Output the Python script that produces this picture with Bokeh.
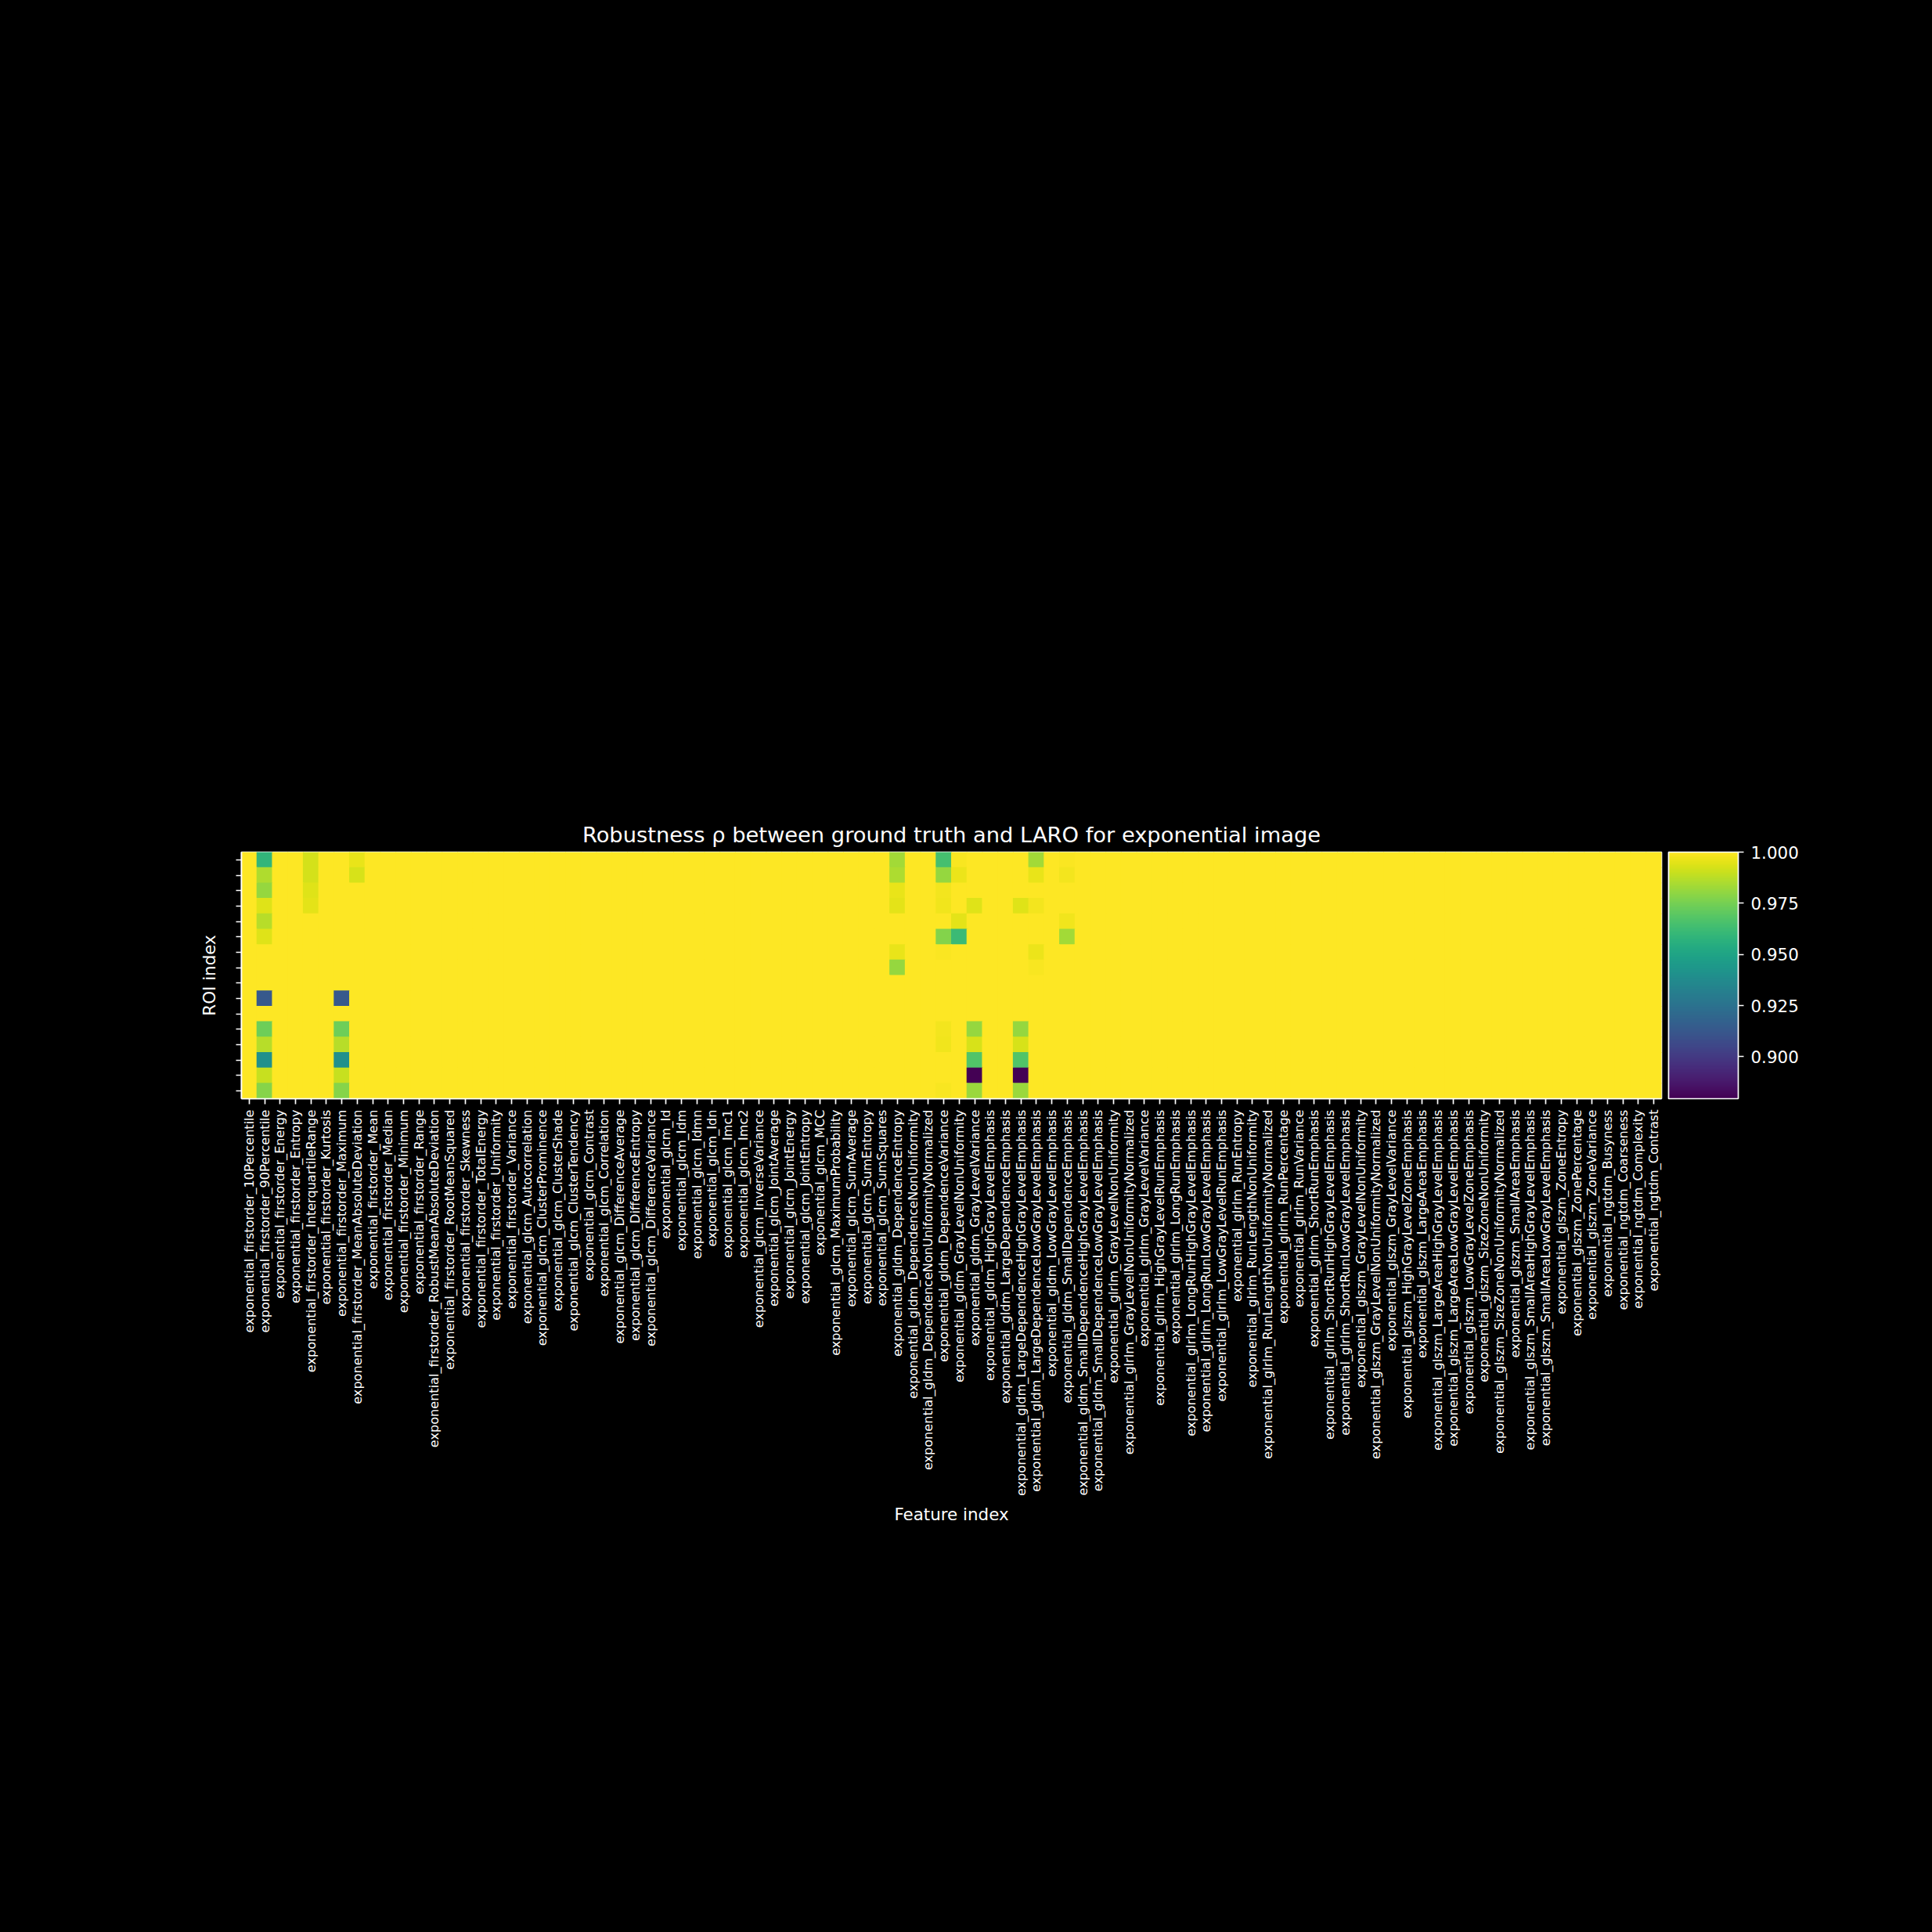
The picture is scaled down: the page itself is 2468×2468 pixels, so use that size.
import numpy as np
from bokeh.plotting import figure
from bokeh.models import (LinearColorMapper, ColorBar, FixedTicker, PrintfTickFormatter,
                          Range1d, ColumnDataSource)
from bokeh.palettes import Viridis256
from bokeh.embed import file_html
from bokeh.resources import INLINE

prefix = "exponential_"
firstorder = ["10Percentile", "90Percentile", "Energy", "Entropy", "InterquartileRange", "Kurtosis",
              "Maximum", "MeanAbsoluteDeviation", "Mean", "Median", "Minimum", "Range",
              "RobustMeanAbsoluteDeviation", "RootMeanSquared", "Skewness", "TotalEnergy",
              "Uniformity", "Variance"]
glcm = ["Autocorrelation", "ClusterProminence", "ClusterShade", "ClusterTendency", "Contrast",
        "Correlation", "DifferenceAverage", "DifferenceEntropy", "DifferenceVariance", "Id", "Idm",
        "Idmn", "Idn", "Imc1", "Imc2", "InverseVariance", "JointAverage", "JointEnergy",
        "JointEntropy", "MCC", "MaximumProbability", "SumAverage", "SumEntropy", "SumSquares"]
gldm = ["DependenceEntropy", "DependenceNonUniformity", "DependenceNonUniformityNormalized",
        "DependenceVariance", "GrayLevelNonUniformity", "GrayLevelVariance", "HighGrayLevelEmphasis",
        "LargeDependenceEmphasis", "LargeDependenceHighGrayLevelEmphasis",
        "LargeDependenceLowGrayLevelEmphasis", "LowGrayLevelEmphasis", "SmallDependenceEmphasis",
        "SmallDependenceHighGrayLevelEmphasis", "SmallDependenceLowGrayLevelEmphasis"]
glrlm = ["GrayLevelNonUniformity", "GrayLevelNonUniformityNormalized", "GrayLevelVariance",
         "HighGrayLevelRunEmphasis", "LongRunEmphasis", "LongRunHighGrayLevelEmphasis",
         "LongRunLowGrayLevelEmphasis", "LowGrayLevelRunEmphasis", "RunEntropy",
         "RunLengthNonUniformity", "RunLengthNonUniformityNormalized", "RunPercentage",
         "RunVariance", "ShortRunEmphasis", "ShortRunHighGrayLevelEmphasis",
         "ShortRunLowGrayLevelEmphasis"]
glszm = ["GrayLevelNonUniformity", "GrayLevelNonUniformityNormalized", "GrayLevelVariance",
         "HighGrayLevelZoneEmphasis", "LargeAreaEmphasis", "LargeAreaHighGrayLevelEmphasis",
         "LargeAreaLowGrayLevelEmphasis", "LowGrayLevelZoneEmphasis", "SizeZoneNonUniformity",
         "SizeZoneNonUniformityNormalized", "SmallAreaEmphasis", "SmallAreaHighGrayLevelEmphasis",
         "SmallAreaLowGrayLevelEmphasis", "ZoneEntropy", "ZonePercentage", "ZoneVariance"]
ngtdm = ["Busyness", "Coarseness", "Complexity", "Contrast"]

features = ([prefix + "firstorder_" + f for f in firstorder] + [prefix + "glcm_" + f for f in glcm] +
            [prefix + "gldm_" + f for f in gldm] + [prefix + "glrlm_" + f for f in glrlm] +
            [prefix + "glszm_" + f for f in glszm] + [prefix + "ngtdm_" + f for f in ngtdm])

roi_index = list(range(16))

# robustness rho per ROI (0..15) for features that are not 1.0 everywhere
rho_fo_90Percentile = [0.959, 0.9855, 0.981, 0.994, 0.987, 0.994, 1.0, 1.0, 1.0, 0.913, 1.0, 0.9735, 0.987, 0.940, 0.990, 0.978]
rho_fo_IQR = [0.992, 0.992, 0.994, 0.995, 1.0, 1.0, 1.0, 1.0, 1.0, 1.0, 1.0, 1.0, 1.0, 1.0, 1.0, 1.0]
rho_fo_Maximum = [1.0, 1.0, 1.0, 1.0, 1.0, 1.0, 1.0, 1.0, 1.0, 0.913, 1.0, 0.9735, 0.987, 0.940, 0.990, 0.978]
rho_fo_MAD = [0.9958, 0.9925, 1.0, 1.0, 1.0, 1.0, 1.0, 1.0, 1.0, 1.0, 1.0, 1.0, 1.0, 1.0, 1.0, 1.0]
rho_gldm_DepEntropy = [0.9835, 0.985, 0.9958, 0.995, 1.0, 1.0, 0.996, 0.981, 1.0, 1.0, 1.0, 1.0, 1.0, 1.0, 1.0, 1.0]
rho_gldm_DepVariance = [0.9646, 0.981, 0.998, 0.9975, 1.0, 0.9777, 0.9993, 1.0, 1.0, 1.0, 1.0, 0.998, 0.9975, 1.0, 1.0, 0.9989]
rho_gldm_GLNU = [0.9989, 0.9965, 1.0, 1.0, 0.995, 0.9615, 1.0, 1.0, 1.0, 1.0, 1.0, 1.0, 1.0, 1.0, 1.0, 1.0]
rho_gldm_GLVariance = [1.0, 1.0, 1.0, 0.994, 1.0, 1.0, 1.0, 1.0, 1.0, 1.0, 1.0, 0.981, 0.9925, 0.9675, 0.8795, 0.982]
rho_gldm_LDHGLE = [1.0, 1.0, 1.0, 0.994, 1.0, 1.0, 1.0, 1.0, 1.0, 1.0, 1.0, 0.981, 0.9925, 0.9675, 0.8795, 0.982]
rho_gldm_LDLGLE = [0.9835, 0.9958, 1.0, 0.998, 1.0, 1.0, 0.9965, 0.9989, 1.0, 1.0, 1.0, 1.0, 1.0, 1.0, 1.0, 1.0]
rho_gldm_SDE = [0.9993, 0.998, 1.0, 1.0, 0.9975, 0.9835, 1.0, 1.0, 1.0, 1.0, 1.0, 1.0, 1.0, 1.0, 1.0, 1.0]

deviating = {
    prefix + "firstorder_90Percentile": rho_fo_90Percentile,
    prefix + "firstorder_InterquartileRange": rho_fo_IQR,
    prefix + "firstorder_Maximum": rho_fo_Maximum,
    prefix + "firstorder_MeanAbsoluteDeviation": rho_fo_MAD,
    prefix + "gldm_DependenceEntropy": rho_gldm_DepEntropy,
    prefix + "gldm_DependenceVariance": rho_gldm_DepVariance,
    prefix + "gldm_GrayLevelNonUniformity": rho_gldm_GLNU,
    prefix + "gldm_GrayLevelVariance": rho_gldm_GLVariance,
    prefix + "gldm_LargeDependenceHighGrayLevelEmphasis": rho_gldm_LDHGLE,
    prefix + "gldm_LargeDependenceLowGrayLevelEmphasis": rho_gldm_LDLGLE,
    prefix + "gldm_SmallDependenceEmphasis": rho_gldm_SDE,
}

z = np.ones((len(roi_index), len(features)))
for name, col in deviating.items():
    z[:, features.index(name)] = col

xs, ys, vs = [], [], []
for r in roi_index:
    for c in range(len(features)):
        xs.append(c)
        ys.append(r)
        vs.append(float(z[r, c]))
src = ColumnDataSource(dict(x=xs, y=ys, v=vs))

mapper = LinearColorMapper(palette=Viridis256, low=float(z.min()), high=float(z.max()))

FONT = "DejaVu Sans"
W = H = 2468
p = figure(width=W, height=H, output_backend="svg", toolbar_location=None,
           x_range=Range1d(-0.5, len(features) - 0.5),
           y_range=Range1d(len(roi_index) - 0.5, -0.5),
           min_border_left=308, min_border_right=346, min_border_top=1088, min_border_bottom=1065,
           background_fill_color="black", border_fill_color="black",
           outline_line_color="white", outline_line_width=1.7)

# slightly oversized cells so that no seams show between neighbours
p.rect(x="x", y="y", width=1.05, height=1.05, source=src,
       fill_color={"field": "v", "transform": mapper}, line_color=None)

p.grid.visible = False

p.title.text = "Robustness \u03c1 between ground truth and LARO for exponential image"
p.title.align = "center"
p.title.text_color = "white"
p.title.text_font = FONT
p.title.text_font_size = "27.3px"
p.title.text_font_style = "normal"
p.title.standoff = 14

for ax in (p.xaxis[0], p.yaxis[0]):
    ax.axis_line_color = "white"
    ax.axis_line_width = 1.7
    ax.major_tick_line_color = "white"
    ax.major_tick_line_width = 1.7
    ax.major_tick_in = 0
    ax.major_tick_out = 7
    ax.minor_tick_line_color = None
    ax.axis_label_text_color = "white"
    ax.axis_label_text_font = FONT
    ax.axis_label_text_font_size = "21.4px"
    ax.axis_label_text_font_style = "normal"
    ax.major_label_text_color = "white"
    ax.major_label_text_font = FONT

p.xaxis.ticker = FixedTicker(ticks=list(range(len(features))))
p.xaxis.major_label_overrides = {i: f for i, f in enumerate(features)}
p.xaxis.major_label_orientation = np.pi / 2
p.xaxis.major_label_text_font_size = "16.1px"
p.xaxis.major_label_standoff = 7
p.xaxis.axis_label = "Feature index"
p.xaxis.axis_label_standoff = 8

p.yaxis.ticker = FixedTicker(ticks=roi_index)
p.yaxis.major_label_overrides = {i: "" for i in roi_index}
p.yaxis.major_label_text_font_size = "21.4px"
p.yaxis.major_label_standoff = 0
p.yaxis.axis_label = "ROI index"
p.yaxis.axis_label_standoff = 22

frame_w = W - 308 - 346
cb = ColorBar(color_mapper=mapper,
              ticker=FixedTicker(ticks=[0.9, 0.925, 0.95, 0.975, 1.0]),
              formatter=PrintfTickFormatter(format="%.3f"),
              width=89, height=315, padding=0, margin=0,
              location=(frame_w + 9, 0),
              bar_line_color="white", bar_line_width=1.7,
              major_tick_in=0, major_tick_out=7,
              major_tick_line_color="white", major_tick_line_width=1.7,
              minor_tick_line_color=None,
              major_label_text_color="white", major_label_text_font=FONT,
              major_label_text_font_size="21.4px", label_standoff=9,
              background_fill_color=None, border_line_color=None)
p.add_layout(cb, "center")

html = file_html(p, INLINE)
html = html.replace("<head>", "<head><style>html,body{margin:0;padding:0;background:#000;}</style>", 1)
open("out.html", "w").write(html)
